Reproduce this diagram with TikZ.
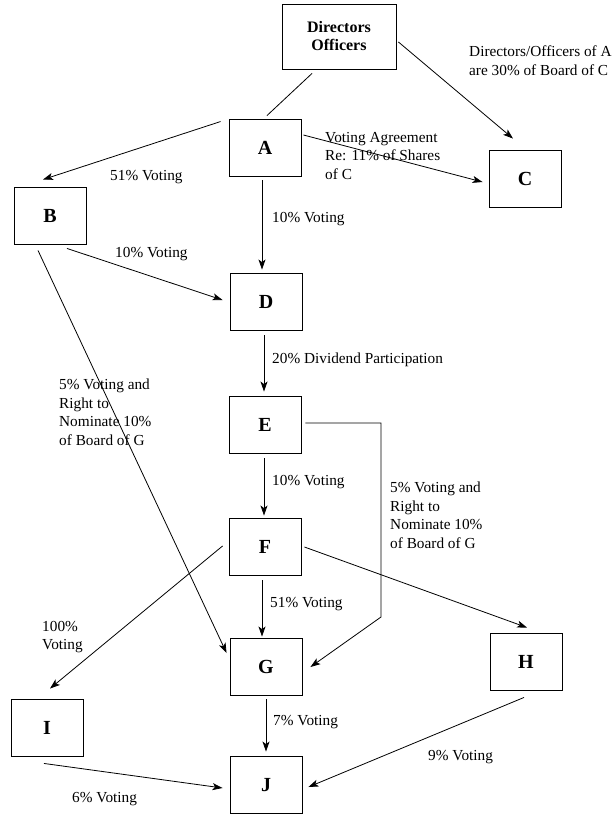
\documentclass[tikz,border=0pt]{standalone}
\usepackage{fontspec}
\setmainfont{Liberation Serif}
\usetikzlibrary{arrows.meta}
\begin{document}
\begin{tikzpicture}[x=1pt,y=-1pt,
  firm/.style={draw, line width=0.9pt, minimum width=72pt, minimum height=57pt, font=\fontsize{20}{22}\selectfont\bfseries},
  lbl/.style={inner sep=0pt, align=left, font=\fontsize{15.3}{18.5}\selectfont},
  link/.style={line width=0.8pt},
  arr/.style={line width=0.8pt, -{Stealth[length=10pt,width=7pt,inset=2.5pt]}}]
\useasboundingbox (0,0) rectangle (614,814);

\node[firm, minimum width=114pt, minimum height=65pt, align=center, font=\fontsize{16}{18}\selectfont\bfseries] (dir) at (339,36.5) {Directors\\Officers};
\node[firm] (A) at (265,148) {A};
\node[firm] (B) at (50,216) {B};
\node[firm] (C) at (525,179) {C};
\node[firm] (D) at (266,302) {D};
\node[firm] (E) at (265,425) {E};
\node[firm] (F) at (265,547) {F};
\node[firm] (G) at (266,667) {G};
\node[firm] (H) at (526,662) {H};
\node[firm] (I) at (47,728) {I};
\node[firm] (J) at (266,785) {J};
\coordinate (ebend) at (381,617);

\draw[link] ([xshift=-27pt,yshift=-4pt]dir.south) -- ([xshift=2pt,yshift=3.5pt]A.north);
\draw[arr] ([xshift=2pt,yshift=-5.5pt]dir.east) -- ([xshift=-12pt,yshift=11.5pt]C.north);
\draw[arr] ([xshift=-8pt,yshift=-2.5pt]A.north west) -- ([xshift=-7pt,yshift=7.5pt]B.north);
\draw[arr] ([xshift=2pt,yshift=13pt]A.east) -- ([xshift=-6pt,yshift=-3pt]C.west);
\draw[arr] ([xshift=-3pt,yshift=-3.5pt]A.south) -- ([xshift=-4pt,yshift=3.5pt]D.north);
\draw[arr] ([xshift=17pt,yshift=-3.5pt]B.south) -- ([xshift=-7pt,yshift=2pt]D.west);
\draw[arr] ([xshift=-12pt,yshift=-5.5pt]B.south) -- ([xshift=-3pt,yshift=14pt]G.west);
\draw[arr] ([xshift=-2pt,yshift=-4.5pt]D.south) -- ([xshift=-1pt,yshift=4.5pt]E.north);
\draw[arr] ([xshift=4pt,yshift=2pt]E.east) -| (ebend) -- ([xshift=8pt]G.east);
\draw[arr] ([xshift=-1pt,yshift=-4.5pt]E.south) -- ([xshift=-1pt,yshift=2.5pt]F.north);
\draw[arr] ([xshift=-3pt,yshift=-4.5pt]F.south) -- ([xshift=-4pt,yshift=1.5pt]G.north);
\draw[arr] ([xshift=3pt]F.east) -- ([xshift=1pt,yshift=5.5pt]H.north);
\draw[arr] ([xshift=-6pt,yshift=1pt]F.west) -- ([xshift=3pt,yshift=10.5pt]I.north);
\draw[arr] ([yshift=-3.5pt]G.south) -- ([yshift=4.5pt]J.north);
\draw[arr] ([xshift=-3pt,yshift=-6.5pt]I.south) -- ([xshift=-7pt,yshift=-3pt]J.west);
\draw[arr] ([xshift=-2pt,yshift=-6.5pt]H.south) -- ([xshift=6pt,yshift=-2pt]J.east);

\node[lbl, anchor=north west] (dirc) at (469,46) {Directors/Officers of A\\are 30\% of Board of C};
\node[lbl, anchor=north west] (agree) at (325,132) {Voting Agreement\\Re: 11\% of Shares\\of C};
\node[lbl, anchor=base west] (ab) at (110,180) {51\% Voting};
\node[lbl, anchor=base west] (ad) at (272,222) {10\% Voting};
\node[lbl, anchor=base west] (bd) at (115,257) {10\% Voting};
\node[lbl, anchor=base west] (de) at (272,363) {20\% Dividend Participation};
\node[lbl, anchor=north west] (bg) at (59,379) {5\% Voting and\\Right to\\Nominate 10\%\\of Board of G};
\node[lbl, anchor=north west] (eg) at (390,482) {5\% Voting and\\Right to\\Nominate 10\%\\of Board of G};
\node[lbl, anchor=base west] (ef) at (272,485) {10\% Voting};
\node[lbl, anchor=base west] (fg) at (270,607) {51\% Voting};
\node[lbl, anchor=north west] (fi) at (42,621) {100\%\\Voting};
\node[lbl, anchor=base west] (gj) at (273,725) {7\% Voting};
\node[lbl, anchor=base west] (ij) at (72,802) {6\% Voting};
\node[lbl, anchor=base west] (hj) at (428,760) {9\% Voting};
\end{tikzpicture}
\end{document}
